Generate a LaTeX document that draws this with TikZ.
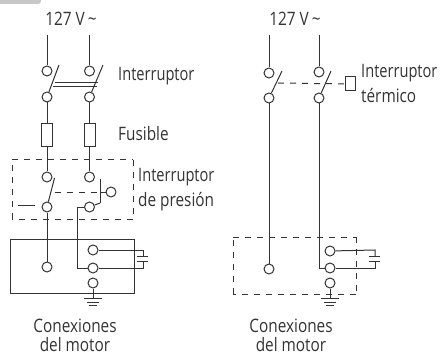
\documentclass[tikz,border=0pt]{standalone}
\usepackage{fontspec}
\setmainfont[FakeStretch=0.83]{Open Sans}
\newfontfamily\narrowfont[FakeStretch=0.79]{Open Sans}
\tikzset{
	wire/.style={line width=1pt, draw=black!80},
	dashwire/.style={wire, dash pattern=on 6pt off 6pt},
	term/.style={circle, draw=black!80, line width=1pt, fill=white, minimum size=10pt, inner sep=0pt},
	fuse/.style={rectangle, draw=black!80, line width=1pt, minimum width=11pt, minimum height=23pt, inner sep=0pt},
	relay/.style={rectangle, draw=black!80, line width=1pt, minimum width=10pt, minimum height=14pt, inner sep=0pt},
	lab/.style={font=\fontsize{18.5}{20}\selectfont, text=black!80, inner sep=0pt, align=center},
	labnarrow/.style={lab, font=\narrowfont\fontsize{18.5}{20}\selectfont, anchor=west}
}
\begin{document}
\begin{tikzpicture}[x=1pt, y=-1pt]
		\useasboundingbox (0, 0) rectangle (446, 355);
		\fill[black!22, rounded corners=3pt] (-5, -5) rectangle (41, 4);
		% left circuit
		\foreach \n/\x/\y in {a/47/71, b/89.5/71, c/47/97, d/89.5/97, e/47/177, f/89.5/177, g/47/207, h/89.5/207, k/111/192, m/47/267, n/93/250, o/93/268, p/93/283}
			\node[term] (\n) at (\x, \y) {};
		\foreach \n/\x in {fa/47, fb/89.5}
			\node[fuse] (\n) at (\x, 135.5) {};
		\coordinate (la) at (47, 35);
		\coordinate (lb) at (89.5, 35);
		\draw[wire] (la) -- (a);
		\draw[wire] (lb) -- (b);
		\draw[wire] (c) -- (fa);
		\draw[wire] (d) -- (fb);
		\draw[wire] (fa) -- (e);
		\draw[wire] (fb) -- (f);
		\draw[wire] (c) -- (59, 65);
		\draw[wire] (d) -- (103, 65);
		\draw[wire] (54.5, 83) -- (98, 83);
		\draw[wire] (53, 87) -- (96.5, 87);
		\draw[wire] (g) -- (m);
		\draw[wire] (h) -| (77, 268) -- (o);
		\draw[wire] (g) -- (54.5, 178);
		\draw[wire] (100, 179) -- (100, 203);
		\draw[wire] (h) -- (100, 203);
		\draw[wire] (100, 192) -- (k);
		\draw[wire] (18, 205) -- (35, 205);
		\draw[dashwire] (54.5, 192) -- (100, 192);
		\draw[dashwire] (12, 160) -- (133, 160);
		\draw[dashwire] (133, 160) -- (133, 219);
		\draw[dashwire] (133, 219) -- (12, 219);
		\draw[dashwire] (12, 219) -- (12, 160);
		\draw[wire] (10, 239) rectangle (134, 293);
		\draw[wire] (n) -- (143, 250) -- (143, 256);
		\draw[wire] (o) -- (143, 268) -- (143, 261);
		\draw[wire] (137, 256) -- (148, 256);
		\draw[wire] (137, 261) -- (148, 261);
		\draw[wire] (p) -- (93, 298);
		\draw[wire] (84, 298) -- (102, 298);
		\draw[wire] (87, 302) -- (99, 302);
		\draw[wire] (89, 305) -- (97, 305);
		% right circuit
		\foreach \n/\x/\y in {q/269/73, r/319/72, s/269/98, t/319/98, u/269/269, v/330/251, w/330/268, z/330/283}
			\node[term] (\n) at (\x, \y) {};
		\node[relay] (rel) at (350, 84) {};
		\coordinate (ra) at (269, 35);
		\coordinate (rb) at (319, 35);
		\draw[wire] (ra) -- (q);
		\draw[wire] (rb) -- (r);
		\draw[wire] (s) -- (282, 71);
		\draw[wire] (t) -- (331, 71);
		\draw[dashwire] (278, 83) -- (rel);
		\draw[wire] (s) -- (u);
		\draw[wire] (t) -- (319, 268) -- (w);
		\draw[dashwire] (233, 237) -- (356, 237);
		\draw[dashwire] (356, 237) -- (356, 294);
		\draw[dashwire] (356, 294) -- (233, 294);
		\draw[dashwire] (233, 294) -- (233, 237);
		\draw[wire] (v) -- (375, 250) -- (375, 256);
		\draw[wire] (w) -- (375, 268) -- (375, 261);
		\draw[wire] (369, 256) -- (380, 256);
		\draw[wire] (369, 261) -- (380, 261);
		\draw[wire] (z) -- (330, 298);
		\draw[wire] (321, 298) -- (339, 298);
		\draw[wire] (324, 302) -- (336, 302);
		\draw[wire] (326, 305) -- (334, 305);
		% labels
		\node[lab] (va) at (71, 19) {127 V\,\string~};
		\node[lab] (vb) at (295, 19) {127 V\,\string~};
		\node[labnarrow] (ti) at (118, 76) {Interruptor};
		\node[lab, anchor=west] (tf) at (118, 134) {Fusible};
		\node[labnarrow] (tp) at (138, 177) {Interruptor};
		\node[lab, anchor=west] (tq) at (138, 202) {de presión};
		\node[labnarrow] (tt) at (361, 73) {Interruptor};
		\node[lab, anchor=west] (tu) at (361, 96) {térmico};
		\node[lab] (tm) at (75, 326) {Conexiones};
		\node[lab] (tn) at (75, 345) {del motor};
		\node[lab] (tr) at (291, 326) {Conexiones};
		\node[lab] (ts) at (291, 345) {del motor};
	\end{tikzpicture}
\end{document}
